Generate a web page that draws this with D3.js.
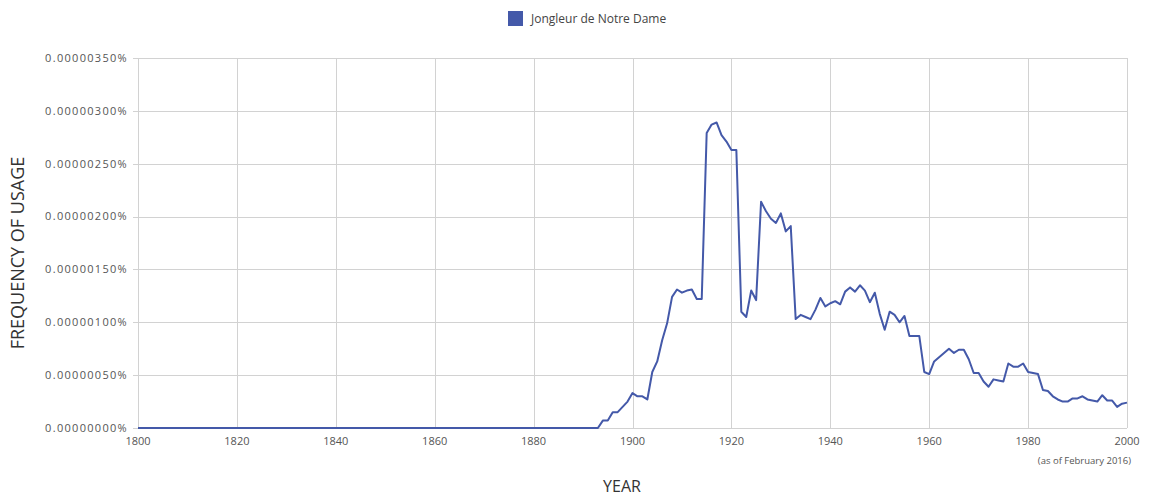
<!DOCTYPE html>
<html>
<head>
<meta charset="utf-8">
<script src="https://cdn.jsdelivr.net/npm/d3@7"></script>
<style>
  body { margin: 0; background: #fff; }
  svg { display: block; font-family: "Open Sans", sans-serif; }
</style>
</head>
<body>
<svg width="1151" height="497"></svg>
<script>
// series name and data (values in units of 0.00000001 %)
const seriesName = "Jongleur de Notre Dame";
const years = [1800, 1893,
  1894, 1895, 1896, 1897, 1898, 1899, 1900, 1901, 1902, 1903,
  1904, 1905, 1906, 1907, 1908, 1909, 1910, 1911, 1912, 1913,
  1914, 1915, 1916, 1917, 1918, 1919, 1920, 1921, 1922, 1923,
  1924, 1925, 1926, 1927, 1928, 1929, 1930, 1931, 1932, 1933,
  1934, 1935, 1936, 1937, 1938, 1939, 1940, 1941, 1942, 1943,
  1944, 1945, 1946, 1947, 1948, 1949, 1950, 1951, 1952, 1953,
  1954, 1955, 1956, 1957, 1958, 1959, 1960, 1961, 1962, 1963,
  1964, 1965, 1966, 1967, 1968, 1969, 1970, 1971, 1972, 1973,
  1974, 1975, 1976, 1977, 1978, 1979, 1980, 1981, 1982, 1983,
  1984, 1985, 1986, 1987, 1988, 1989, 1990, 1991, 1992, 1993,
  1994, 1995, 1996, 1997, 1998, 1999, 2000];
const values = [0, 0,
  7, 7, 15, 15, 20, 25, 33, 30, 30, 27,
  53, 63, 83, 99, 124, 131, 128, 130, 131, 122,
  122, 279, 287, 289, 277, 271, 263, 263, 110, 105,
  130, 121, 214, 205, 198, 194, 203, 186, 191, 103,
  107, 105, 103, 112, 123, 115, 118, 120, 117, 129,
  133, 129, 135, 130, 119, 128, 108, 93, 110, 107,
  100, 106, 87, 87, 87, 53, 51, 63, 67, 71,
  75, 71, 74, 74, 65, 52, 52, 44, 39, 46,
  45, 44, 61, 58, 58, 61, 53, 52, 51, 36,
  35, 30, 27, 25, 25, 28, 28, 30, 27, 26,
  25, 31, 26, 26, 20, 23, 24];
const xTicks = [1800, 1820, 1840, 1860, 1880, 1900, 1920, 1940, 1960, 1980, 2000];
const yTicks = [0, 50, 100, 150, 200, 250, 300, 350];

const svg = d3.select("svg");
const margin = {left: 138, right: 24, top: 58, bottom: 69};
const width = 1151, height = 497;

const x = d3.scaleLinear().domain([1800, 2000]).range([margin.left, width - margin.right]);
const y = d3.scaleLinear().domain([0, 350]).range([height - margin.bottom, margin.top]);

// gridlines
const grid = svg.append("g").attr("stroke", "#d2d2d2").attr("stroke-width", 1);
grid.selectAll("line.h")
    .data(yTicks)
    .join("line")
    .attr("class", "h")
    .attr("x1", margin.left - 5)
    .attr("x2", width - margin.right)
    .attr("y1", d => Math.round(y(d)) + 0.5)
    .attr("y2", d => Math.round(y(d)) + 0.5);
grid.selectAll("line.v")
    .data(xTicks)
    .join("line")
    .attr("class", "v")
    .attr("y1", margin.top)
    .attr("y2", height - margin.bottom)
    .attr("x1", d => Math.round(x(d)) + 0.5)
    .attr("x2", d => Math.round(x(d)) + 0.5);

// y tick labels
svg.append("g")
    .attr("font-size", 11)
    .attr("fill", "#555")
    .attr("text-anchor", "end")
    .selectAll("text")
    .data(yTicks)
    .join("text")
    .attr("x", margin.left - 10)
    .attr("y", d => y(d))
    .attr("dy", "0.35em")
    .attr("letter-spacing", 1.3)
    .text(d => (d * 1e-8).toFixed(8) + "%");

// x tick labels
svg.append("g")
    .attr("font-size", 11)
    .attr("fill", "#555")
    .attr("text-anchor", "middle")
    .selectAll("text")
    .data(xTicks)
    .join("text")
    .attr("x", d => x(d))
    .attr("y", height - margin.bottom + 17)
    .text(d => d);

svg.append("text")
    .attr("x", width - margin.right + 4)
    .attr("y", height - margin.bottom + 36)
    .attr("text-anchor", "end")
    .attr("font-size", 9.5)
    .attr("fill", "#555")
    .text("(as of February 2016)");

// axis titles
svg.append("text")
    .attr("transform", `translate(24,${(margin.top + height - margin.bottom) / 2 + 10}) rotate(-90)`)
    .attr("text-anchor", "middle")
    .attr("font-size", 18)
    .attr("fill", "#333")
    .text("FREQUENCY OF USAGE");

svg.append("text")
    .attr("x", 622)
    .attr("y", 486)
    .attr("dy", "0.35em")
    .attr("text-anchor", "middle")
    .attr("font-size", 16)
    .attr("fill", "#333")
    .text("YEAR");

// line
const line = d3.line()
    .x((d, i) => x(years[i]))
    .y(d => y(d));

svg.append("path")
    .datum(values)
    .attr("fill", "none")
    .attr("stroke", "#4459a9")
    .attr("stroke-width", 2)
    .attr("stroke-linejoin", "round")
    .attr("d", line);

// legend
const legend = svg.append("g").attr("transform", "translate(508,11)");
legend.append("rect")
    .attr("width", 15)
    .attr("height", 15)
    .attr("fill", "#4459a9");
legend.append("text")
    .attr("x", 23)
    .attr("y", 8)
    .attr("dy", "0.35em")
    .attr("font-size", 12)
    .attr("fill", "#444")
    .text(seriesName);
</script>
</body>
</html>
